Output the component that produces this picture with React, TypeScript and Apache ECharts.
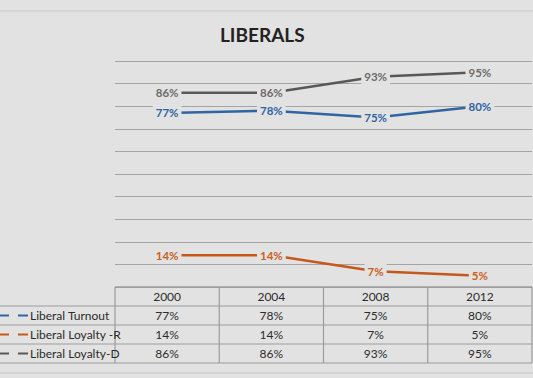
import React, { useEffect, useRef } from "react";
import * as echarts from "echarts";

const years = ["2000", "2004", "2008", "2012"];
const turnout = [77, 78, 75, 80];
const loyaltyR = [14, 14, 7, 5];
const loyaltyD = [86, 86, 93, 95];
const seriesNames = ["Liberal Turnout", "Liberal Loyalty -R", "Liberal Loyalty-D"];
const seriesData = [turnout, loyaltyR, loyaltyD];
const lineColors = ["#2f65a2", "#c4591b", "#585858"];
const labelColors = ["#2f65a2", "#c8611f", "#6c6c6c"];
const title = "LIBERALS";

const BG = "#e2e2e2";
const FONT = "Lato, 'Open Sans', sans-serif";

export default function App() {
  const ref = useRef<HTMLDivElement>(null);
  useEffect(() => {
    document.body.style.margin = "0";
    const chart = echarts.init(ref.current!, null, { renderer: "svg" });
    const series = seriesNames.map((name, i) => ({
      name,
      type: "line",
      data: seriesData[i],
      symbol: "circle",
      symbolSize: 1,
      showSymbol: true,
      itemStyle: { color: "rgba(0,0,0,0)", borderWidth: 0 },
      z: 3 + i,
      lineStyle: { color: lineColors[i], width: 2.5 },
      label: {
        show: true,
        position: "inside",
        formatter: "{c}%",
        color: labelColors[i],
        fontWeight: "bold",
        fontSize: 11.5,
        fontFamily: FONT,
        backgroundColor: BG,
        padding: [2, 3],
      },
    }));
    chart.setOption({
      animation: false,
      backgroundColor: BG,
      textStyle: { fontFamily: FONT },
      title: {
        text: title,
        left: 215,
        top: 20,
        textStyle: { fontSize: 19, fontWeight: "bold", color: "#222", fontFamily: FONT },
      },
      grid: { left: 115, right: 1, top: 61, bottom: 91 },
      xAxis: {
        type: "category",
        data: years,
        boundaryGap: true,
        axisLine: { show: false },
        axisTick: { show: false },
        axisLabel: { show: false },
      },
      yAxis: {
        type: "value",
        min: 0,
        max: 100,
        interval: 10,
        axisLabel: { show: false },
        axisLine: { show: false },
        axisTick: { show: false },
        splitLine: { lineStyle: { color: "#a4a4a4", width: 1.2 } },
      },
      series,
    });

    const xs = years.map((y) => chart.convertToPixel({ xAxisIndex: 0 }, y) as number);
    const band = xs[1] - xs[0];
    const left = xs[0] - band / 2;
    const right = left + band * years.length;
    const top = chart.convertToPixel({ yAxisIndex: 0 }, 0) as number;
    const rowH = 19;
    const border = "#9c9c9c";
    const txt = "#2c2c2c";
    const g: any[] = [];
    g.push({ type: "line", shape: { x1: 0, y1: 11, x2: 533, y2: 11 }, style: { stroke: "#d2d2d2", lineWidth: 1.5 } });
    g.push({ type: "line", shape: { x1: 0, y1: top + rowH * 4 + 10, x2: 533, y2: top + rowH * 4 + 10 }, style: { stroke: "#c4c4c4", lineWidth: 1 } });
    g.push({ type: "line", shape: { x1: left, y1: top, x2: right, y2: top }, style: { stroke: border, lineWidth: 1.5 } });
    for (let r = 1; r <= 4; r++) {
      g.push({ type: "line", shape: { x1: 0, y1: top + r * rowH, x2: right, y2: top + r * rowH }, style: { stroke: border, lineWidth: 1.2 } });
    }
    for (let c = 0; c <= years.length; c++) {
      const x = left + c * band;
      g.push({ type: "line", shape: { x1: x, y1: top, x2: x, y2: top + 4 * rowH }, style: { stroke: border, lineWidth: 1.2 } });
    }
    years.forEach((y, c) => {
      g.push({
        type: "text",
        x: xs[c],
        y: top + rowH / 2,
        style: { text: y, fill: txt, font: `12px ${FONT}`, align: "center", verticalAlign: "middle" },
      });
    });
    seriesNames.forEach((name, r) => {
      const cy = top + (r + 1) * rowH + rowH / 2;
      g.push({ type: "line", shape: { x1: 0, y1: cy, x2: 9, y2: cy }, style: { stroke: lineColors[r], lineWidth: 2 } });
      g.push({ type: "line", shape: { x1: 18, y1: cy, x2: 28, y2: cy }, style: { stroke: lineColors[r], lineWidth: 2 } });
      g.push({
        type: "text",
        x: 30,
        y: cy,
        style: { text: name, fill: txt, font: `12px ${FONT}`, align: "left", verticalAlign: "middle" },
      });
      seriesData[r].forEach((v, c) => {
        g.push({
          type: "text",
          x: xs[c],
          y: cy,
          style: { text: `${v}%`, fill: txt, font: `12px ${FONT}`, align: "center", verticalAlign: "middle" },
        });
      });
    });
    chart.setOption({ graphic: { elements: g } });
    return () => chart.dispose();
  }, []);
  return <div ref={ref} style={{ position: "absolute", left: 0, top: 0, width: 533, height: 378 }} />;
}
